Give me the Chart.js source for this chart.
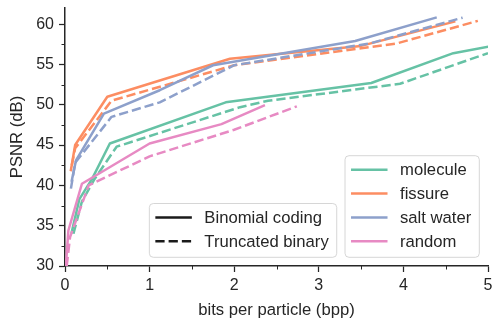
<!DOCTYPE html>
<html><head><meta charset="utf-8">
<script src="https://cdn.jsdelivr.net/npm/chart.js@4/dist/chart.umd.min.js"></script>
<style>html,body{margin:0;padding:0;background:#fff}</style>
</head><body>
<canvas id="c" width="492" height="320"></canvas>
<script>
// ---- data ----
const seriesNames  = ['molecule', 'fissure', 'salt water', 'random'];
const seriesColors = ['#66c2a5', '#fc8d62', '#8da0cb', '#e78ac3'];
const codingNames  = ['Binomial coding', 'Truncated binary'];

const xTickValues = [0, 1, 2, 3, 4, 5];
const xMinorTicks = [0.5, 1.5, 2.5, 3.5, 4.5];
const yTickValues = [30, 35, 40, 45, 50, 55, 60];
const yMinorTicks = [32.5, 37.5, 42.5, 47.5, 52.5, 57.5];

const moleculeBinomialBpp  = [0.08, 0.17, 0.32, 0.53, 1.90, 3.62, 4.59, 5.00];
const moleculeBinomialPsnr = [34.2, 38.3, 40.8, 45.2, 50.3, 52.7, 56.4, 57.2];
const moleculeTruncBpp     = [0.10, 0.20, 0.35, 0.61, 2.07, 2.40, 3.96, 5.00];
const moleculeTruncPsnr    = [34.0, 38.0, 40.8, 44.8, 49.7, 50.5, 52.6, 56.4];

const fissureBinomialBpp   = [0.07, 0.12, 0.50, 1.95, 3.50, 4.60];
const fissureBinomialPsnr  = [41.9, 45.0, 51.0, 55.7, 57.3, 60.3];
const fissureTruncBpp      = [0.08, 0.12, 0.55, 2.00, 3.50, 3.92, 4.88];
const fissureTruncPsnr     = [42.5, 44.6, 50.5, 54.9, 57.0, 57.6, 60.4];

const saltBinomialBpp      = [0.08, 0.13, 0.46, 1.12, 1.75, 3.43, 4.38];
const saltBinomialPsnr     = [40.6, 43.1, 48.9, 51.8, 54.9, 57.9, 60.8];
const saltTruncBpp         = [0.07, 0.12, 0.55, 1.12, 2.00, 3.60, 4.70];
const saltTruncPsnr        = [39.6, 42.8, 48.5, 50.3, 54.9, 57.6, 60.8];

const randomBinomialBpp    = [0.01, 0.04, 0.20, 1.00, 1.85, 2.35];
const randomBinomialPsnr   = [30.0, 34.4, 40.2, 45.2, 47.6, 49.9];
const randomTruncBpp       = [0.02, 0.06, 0.28, 1.00, 2.00, 2.74];
const randomTruncPsnr      = [30.0, 33.6, 40.0, 43.6, 46.9, 49.8];

// ---- build ----
const FONT = '"Liberation Sans", Arial, Helvetica, sans-serif';
const TXT = '#262626';
const DASH = [9.25, 4];
const pts = (xs, ys) => xs.map((x, i) => ({x: x, y: ys[i]}));
const pairs = [
  [moleculeBinomialBpp, moleculeBinomialPsnr, moleculeTruncBpp, moleculeTruncPsnr],
  [fissureBinomialBpp, fissureBinomialPsnr, fissureTruncBpp, fissureTruncPsnr],
  [saltBinomialBpp, saltBinomialPsnr, saltTruncBpp, saltTruncPsnr],
  [randomBinomialBpp, randomBinomialPsnr, randomTruncBpp, randomTruncPsnr]
];
let datasets = [];
pairs.forEach((p, i) => {
  datasets.push({label: seriesNames[i] + ' ' + codingNames[0], data: pts(p[0], p[1]),
    borderColor: seriesColors[i], borderWidth: 2.5, borderCapStyle: 'square', borderJoinStyle: 'round',
    pointRadius: 0, fill: false, tension: 0});
  datasets.push({label: seriesNames[i] + ' ' + codingNames[1], data: pts(p[2], p[3]),
    borderColor: seriesColors[i], borderWidth: 2.5, borderDash: DASH, borderCapStyle: 'butt', borderJoinStyle: 'round',
    pointRadius: 0, fill: false, tension: 0});
});
datasets = datasets.reverse(); // later-plotted on top

function roundRectPath(ctx, x, y, w, h, r) {
  ctx.beginPath();
  ctx.moveTo(x + r, y);
  ctx.lineTo(x + w - r, y); ctx.arcTo(x + w, y, x + w, y + r, r);
  ctx.lineTo(x + w, y + h - r); ctx.arcTo(x + w, y + h, x + w - r, y + h, r);
  ctx.lineTo(x + r, y + h); ctx.arcTo(x, y + h, x, y + h - r, r);
  ctx.lineTo(x, y + r); ctx.arcTo(x, y, x + r, y, r);
  ctx.closePath();
}
function drawLegendBox(ctx, right, bottom, items) {
  ctx.font = '16.67px ' + FONT;
  const rowH = 23.9;
  const maxW = Math.max.apply(null, items.map(it => ctx.measureText(it.label).width));
  const w = 55 + maxW + 8, h = items.length * rowH + 6;
  const left = right - w, top = bottom - h;
  roundRectPath(ctx, left, top, w, h, 4);
  ctx.fillStyle = 'rgba(255,255,255,0.8)'; ctx.fill();
  ctx.strokeStyle = 'rgba(204,204,204,0.8)'; ctx.lineWidth = 1; ctx.stroke();
  items.forEach((it, i) => {
    const cy = top + 2 + rowH * (i + 0.5);
    ctx.beginPath(); ctx.setLineDash(it.dash); ctx.strokeStyle = it.color; ctx.lineWidth = 2.5;
    ctx.moveTo(left + 6, cy); ctx.lineTo(left + 42.5, cy); ctx.stroke();
    ctx.setLineDash([]);
    ctx.fillStyle = TXT; ctx.textBaseline = 'middle'; ctx.textAlign = 'left';
    ctx.fillText(it.label, left + 55, cy + 1);
  });
  return left;
}

const extras = {
  id: 'extras',
  afterDraw(chart) {
    const ctx = chart.ctx, ca = chart.chartArea;
    const xs = chart.scales.x, ys = chart.scales.y;
    ctx.save();
    ctx.strokeStyle = TXT; ctx.lineWidth = 1;
    xMinorTicks.forEach(v => { const px = Math.round(xs.getPixelForValue(v)) + 0.5;
      ctx.beginPath(); ctx.moveTo(px, ca.bottom); ctx.lineTo(px, ca.bottom + 3.5); ctx.stroke(); });
    yMinorTicks.forEach(v => { const py = Math.round(ys.getPixelForValue(v)) + 0.5;
      ctx.beginPath(); ctx.moveTo(ca.left, py); ctx.lineTo(ca.left - 3.5, py); ctx.stroke(); });
    const colorItems = seriesNames.map((n, i) => ({label: n, color: seriesColors[i], dash: []}));
    const left2 = drawLegendBox(ctx, ca.right - 8.7, ca.bottom - 8.7, colorItems);
    const styleItems = codingNames.map((n, i) => ({label: n, color: '#1a1a1a', dash: i ? DASH : []}));
    drawLegendBox(ctx, left2 - 8.3, ca.bottom - 8.7, styleItems);
    ctx.restore();
  }
};

const zeroPad = s => { s.paddingTop = 0; s.paddingBottom = 0; s.paddingLeft = 0; s.paddingRight = 0; };

new Chart(document.getElementById('c'), {
  type: 'line',
  data: {datasets: datasets},
  options: {
    responsive: false, animation: false, devicePixelRatio: 1,
    layout: {padding: {top: 8, right: 4, left: 0, bottom: 0}},
    plugins: {legend: {display: false}, tooltip: {enabled: false}},
    scales: {
      x: {
        type: 'linear', min: 0, max: 5,
        afterBuildTicks: s => { s.ticks = xTickValues.map(v => ({value: v})); },
        ticks: {color: TXT, font: {family: FONT, size: 16}, padding: 4, maxRotation: 0,
                callback: v => String(v)},
        grid: {display: true, drawOnChartArea: false, drawTicks: true, tickLength: 6, tickColor: TXT, tickWidth: 1.25},
        border: {display: true, color: TXT, width: 1.5},
        title: {display: true, text: 'bits per particle (bpp)', color: TXT,
                font: {family: FONT, size: 16.67}, padding: {top: 0, bottom: 0}},
        afterFit: s => { s.height = 54; zeroPad(s); }
      },
      y: {
        type: 'linear', min: 30, max: 62,
        afterBuildTicks: s => { s.ticks = yTickValues.map(v => ({value: v})); },
        ticks: {color: TXT, font: {family: FONT, size: 16}, padding: 5, callback: v => String(v)},
        grid: {display: true, drawOnChartArea: false, drawTicks: true, tickLength: 6, tickColor: TXT, tickWidth: 1.25},
        border: {display: true, color: TXT, width: 1.5},
        title: {display: true, text: 'PSNR (dB)', color: TXT,
                font: {family: FONT, size: 16.67}, padding: {top: 7.5, bottom: 0}},
        afterFit: s => { s.width = 65; zeroPad(s); }
      }
    }
  },
  plugins: [extras]
});
</script>
</body></html>
